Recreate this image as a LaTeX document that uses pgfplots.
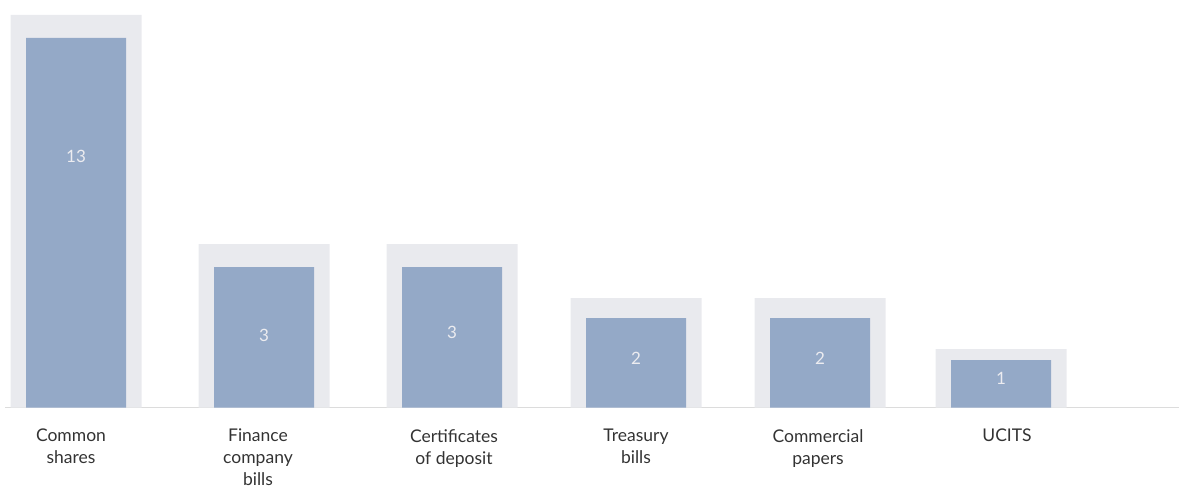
\documentclass[border=0pt]{standalone}
\usepackage{pgfplots}
\pgfplotsset{compat=1.18}
\usepackage{fontspec}
\setmainfont{Lato}
\definecolor{bgbar}{HTML}{E9EAEE}
\definecolor{fgbar}{HTML}{94A9C7}
\definecolor{axisgray}{HTML}{DCDCDC}
\definecolor{labgray}{HTML}{333333}
\definecolor{vallab}{HTML}{ECECF0}
\begin{document}
\begin{tikzpicture}
\begin{axis}[
 x=1pt, y=1pt,
 xmin=5, xmax=1179, ymin=0, ymax=407.5,
 axis x line=bottom, axis y line=none,
 x axis line style={draw=axisgray, line width=1.5pt, -},
 xtick={71,258,454,636,818,1007},
 xticklabels={Common\\shares, Finance\\company\\bills, Certificates\\of deposit, Treasury\\bills, Commercial\\papers, UCITS},
 xticklabel style={align=center, font=\fontsize{17.5}{22}\selectfont, text=labgray, inner sep=0pt, yshift=-21.5pt},
 major tick length=0pt,
 xtick style={draw=none},
 clip=false,
]
\addplot[ybar, bar width=131pt, bar shift=0pt, fill=bgbar, draw=none]
 coordinates {(76,392.5) (264,163.5) (452,163.5) (636,109.5) (820,109.5) (1001,58.5)};
\addplot[ybar, bar width=100pt, bar shift=0pt, fill=fgbar, draw=none]
 coordinates {(76,369.5) (264,140.5) (452,140.5) (636,89.5) (820,89.5) (1001,47.5)};
\addplot[draw=none, mark=none, nodes near coords, point meta=explicit symbolic,
 every node near coord/.append style={anchor=center, font=\fontsize{17}{20}\selectfont, text=vallab}]
 coordinates {(76,251.5)[13] (264,72.5)[3] (452,75)[3] (636,49)[2] (820,49)[2] (1001,29)[1]};
\coordinate (bl) at (axis cs:0,-80.5);
\coordinate (tr) at (axis cs:1179,407.5);
\end{axis}
\pgfresetboundingbox
\path (bl) rectangle (tr);
\end{tikzpicture}
\end{document}
